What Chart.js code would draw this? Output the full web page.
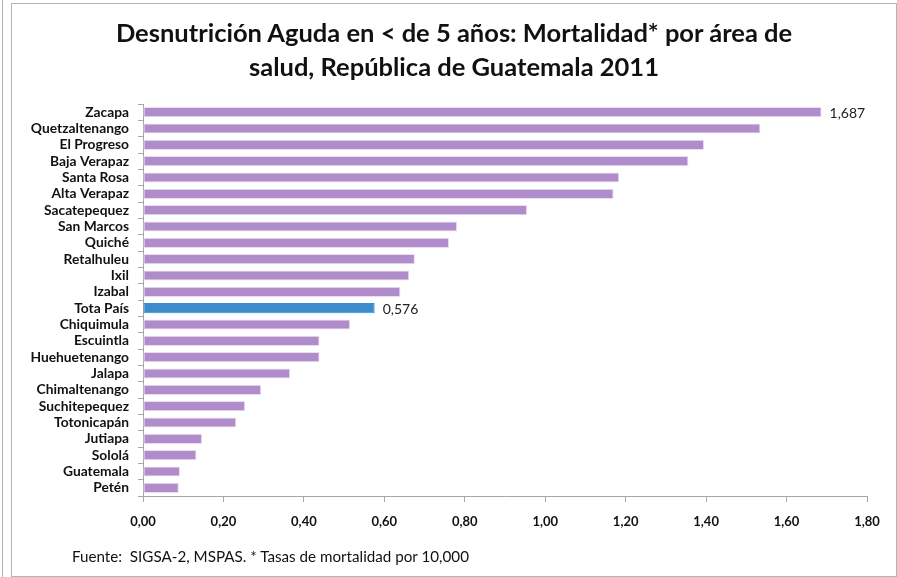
<!DOCTYPE html>
<html lang="es">
<head>
    <meta charset="UTF-8">
    <title>Desnutrición Aguda en &lt; de 5 años: Mortalidad por área de salud</title>
    <style>
        body {
            margin: 0;
            padding: 0;
            background: #fff;
            font-family: Lato, "Open Sans", sans-serif;
        }
        .page {
            position: relative;
            width: 897px;
            height: 577px;
            overflow: hidden;
        }
        .edge {
            position: absolute;
            left: 2px;
            top: 0;
            width: 0;
            height: 577px;
            border-left: 1px solid #b4b4b4;
        }
        .frame {
            position: absolute;
            left: 11px;
            top: 3px;
            width: 884px;
            height: 572px;
            border: 1px solid #b4b4b4;
        }
        .title {
            position: absolute;
            left: 4px;
            width: 900px;
            top: 15px;
            text-align: center;
            font-weight: bold;
            font-size: 25.5px;
            line-height: 34px;
            color: #111;
        }
        .footnote {
            position: absolute;
            left: 72px;
            top: 547px;
            font-size: 15.2px;
            line-height: 18px;
            color: #111;
        }
        .chart-box {
            position: absolute;
            left: 0;
            top: 0;
            width: 897px;
            height: 577px;
        }
    </style>
</head>
<body>
    <div class="page">
        <div class="edge"></div>
        <div class="frame"></div>
        <div class="chart-box">
            <canvas id="mortalityChart"></canvas>
        </div>
        <div class="title">Desnutrición Aguda en &lt; de 5 años: Mortalidad* por área de<br>salud, República de Guatemala 2011</div>
        <div class="footnote">Fuente:&nbsp; SIGSA-2, MSPAS. * Tasas de mortalidad por 10,000</div>
    </div>

    <script src="https://cdn.jsdelivr.net/npm/chart.js"></script>
    <script>
        // areas de salud, top to bottom
        const areas = [
            'Zacapa', 'Quetzaltenango', 'El Progreso', 'Baja Verapaz', 'Santa Rosa',
            'Alta Verapaz', 'Sacatepequez', 'San Marcos', 'Quiché', 'Retalhuleu',
            'Ixil', 'Izabal', 'Tota País', 'Chiquimula', 'Escuintla',
            'Huehuetenango', 'Jalapa', 'Chimaltenango', 'Suchitepequez', 'Totonicapán',
            'Jutiapa', 'Sololá', 'Guatemala', 'Petén'
        ];
        const rates = [
            1.687, 1.535, 1.395, 1.356, 1.184,
            1.170, 0.955, 0.781, 0.761, 0.676,
            0.662, 0.640, 0.576, 0.515, 0.439,
            0.439, 0.366, 0.294, 0.254, 0.232,
            0.147, 0.133, 0.092, 0.089
        ];
        const valueLabels = [
            '1,687', '', '', '', '',
            '', '', '', '', '',
            '', '', '0,576', '', '',
            '', '', '', '', '',
            '', '', '', ''
        ];
        const xTickLabels = ['0,00', '0,20', '0,40', '0,60', '0,80', '1,00', '1,20', '1,40', '1,60', '1,80'];
        const countryRow = 'Tota País';

        const barColors = areas.map(a => a === countryRow ? '#3a8ccc' : '#b08cca');
        const barEdges = areas.map(a => a === countryRow ? '#3a8ccc' : '#e9def2');

        // small plugin for the two value labels
        const valueLabelPlugin = {
            id: 'valueLabels',
            afterDatasetsDraw(chart) {
                const ctx = chart.ctx;
                const meta = chart.getDatasetMeta(0);
                ctx.save();
                ctx.font = '14px Lato, "Open Sans", sans-serif';
                ctx.fillStyle = '#222';
                ctx.textBaseline = 'middle';
                ctx.textAlign = 'left';
                meta.data.forEach((bar, i) => {
                    if (valueLabels[i]) {
                        ctx.fillText(valueLabels[i], bar.x + 8, bar.y + 1);
                    }
                });
                ctx.restore();
            }
        };

        const axisGrey = '#a6a6a6';

        new Chart(document.getElementById('mortalityChart'), {
            type: 'bar',
            data: {
                labels: areas,
                datasets: [{
                    data: rates,
                    backgroundColor: barColors,
                    borderColor: barEdges,
                    borderWidth: 1,
                    borderSkipped: false,
                    categoryPercentage: 1,
                    barPercentage: 0.62
                }]
            },
            options: {
                indexAxis: 'y',
                responsive: true,
                maintainAspectRatio: false,
                animation: false,
                layout: {
                    padding: { left: 11, right: 30, top: 104, bottom: 41 }
                },
                plugins: {
                    legend: { display: false },
                    tooltip: { enabled: false }
                },
                scales: {
                    x: {
                        min: 0,
                        max: 1.8,
                        ticks: {
                            stepSize: 0.2,
                            padding: 12,
                            color: '#111',
                            font: { family: 'Lato, "Open Sans", sans-serif', size: 13, weight: 'bold' },
                            callback: (v, i) => xTickLabels[i]
                        },
                        grid: {
                            drawOnChartArea: false,
                            drawTicks: true,
                            tickLength: 6,
                            color: axisGrey
                        },
                        border: { display: true, color: axisGrey },
                        afterFit: scale => { scale.height = 40; }
                    },
                    y: {
                        ticks: {
                            padding: 9,
                            color: '#111',
                            autoSkip: false,
                            font: { family: 'Lato, "Open Sans", sans-serif', size: 13.8, weight: 'bold' }
                        },
                        grid: {
                            drawOnChartArea: false,
                            drawTicks: true,
                            tickLength: 5,
                            color: axisGrey
                        },
                        border: { display: true, color: axisGrey },
                        afterFit: scale => { scale.width = 132; }
                    }
                }
            },
            plugins: [valueLabelPlugin]
        });
    </script>
</body>
</html>
